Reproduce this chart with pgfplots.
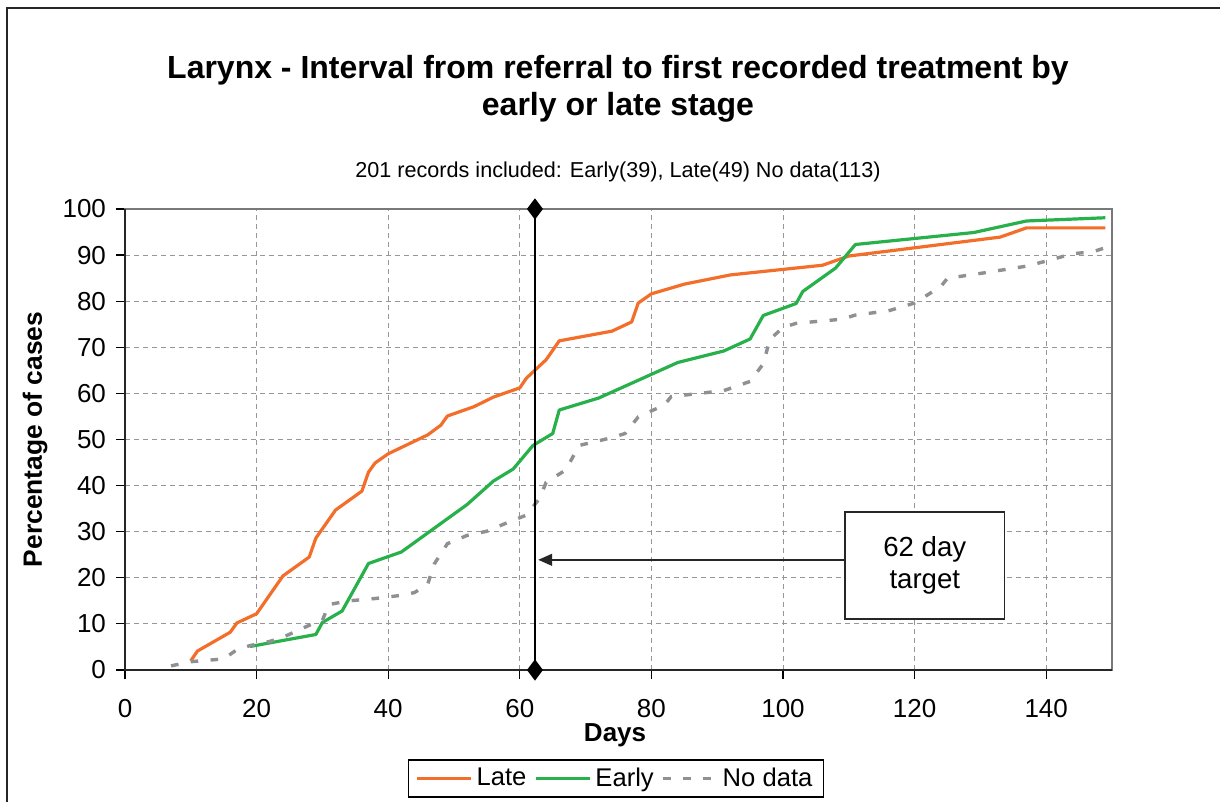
\documentclass[border=0pt]{standalone}
\usepackage{pgfplots}
\pgfplotsset{compat=1.18}
\usepackage{fontspec}
\setmainfont{Liberation Sans}
\usetikzlibrary{arrows.meta}
\definecolor{lateC}{RGB}{243,110,42}
\definecolor{earlyC}{RGB}{40,176,74}
\definecolor{nodC}{RGB}{142,144,147}
\definecolor{gridC}{RGB}{150,150,150}
\begin{document}
\begin{tikzpicture}
\useasboundingbox (0,0) rectangle (610bp,401bp);
\draw[line width=0.8bp, black!85] (3.5bp,0) -- (3.5bp,397bp) -- (610bp,397bp);
\node[font=\fontsize{16bp}{18.5bp}\selectfont\bfseries, align=center] at (309bp,356.5bp)
  {Larynx - Interval from referral to first recorded treatment by\\early or late stage};
\node[font=\fontsize{10.8bp}{12bp}\selectfont] at (309bp,315bp)
  {201 records included: Early(39), Late(49) No data(113)};
\begin{axis}[
  at={(62.5bp,66bp)}, anchor=south west,
  scale only axis, width=493.5bp, height=230.5bp,
  xmin=0, xmax=150, ymin=0, ymax=100,
  xtick={0,20,...,140}, ytick={0,10,...,100},
  /pgf/number format/assume math mode=true,
  ticklabel style={font=\fontsize{13bp}{15bp}\selectfont},
  xticklabel style={yshift=-6.8bp},
  yticklabel style={xshift=-1.5bp},
  tick align=outside, major tick length=4.5bp,
  tick style={black, line width=0.6bp},
  xtick pos=bottom, ytick pos=left,
  grid=major,
  major grid style={gridC, line width=0.5bp, dash pattern=on 2.5bp off 2bp},
  axis line style={draw=gray!95!black, line width=1.3bp},
  xlabel={\textbf{Days}}, ylabel={\textbf{Percentage of cases}},
  every axis x label/.style={at={(axis description cs:0.4965,-0.141)}, anchor=center, font=\fontsize{13bp}{15bp}\selectfont},
  every axis y label/.style={at={(axis description cs:-0.0912,0.5)}, rotate=90, anchor=center, font=\fontsize{13.2bp}{15bp}\selectfont},
  legend columns=3,
  legend style={at={(rel axis cs:0.4975,-0.2354)}, anchor=center, draw=black, line width=0.8bp,
    font=\fontsize{12.8bp}{14bp}\selectfont, inner xsep=3.5bp, inner ysep=2bp,
    /tikz/every even column/.append style={column sep=2bp}},
  legend image code/.code={\draw[#1, line width=1.5bp] (0bp,0bp) -- (27bp,0bp);},
  clip=false,
]
\addplot[lateC, line width=1.6bp, line join=round] coordinates {
(10,2.0) (11,4.1) (16,8.2) (17,10.2) (20,12.2) (24,20.4) (28,24.5) (29,28.6) (32,34.7) (36,38.8) (37,42.9) (38,44.9) (40,46.9) (46,51.0) (48,53.1) (49,55.1) (53,57.1) (56,59.2) (60,61.2) (61,63.3) (64,67.3) (66,71.4) (74,73.5) (77,75.5) (78,79.6) (80,81.6) (85,83.7) (92,85.7) (106,87.8) (110,89.8) (133,93.9) (137,95.9) (149,95.9)
};
\addlegendentry{Late}
\addplot[earlyC, line width=1.6bp, line join=round] coordinates {
(19,5.1) (29,7.7) (30,10.3) (33,12.8) (37,23.1) (42,25.6) (52,35.9) (56,41.0) (59,43.6) (62,48.7) (65,51.3) (66,56.4) (72,59.0) (84,66.7) (91,69.2) (95,71.8) (97,76.9) (102,79.5) (103,82.1) (108,87.2) (111,92.3) (129,94.9) (137,97.4) (149,98.1)
};
\addlegendentry{Early}
\addplot[nodC, line width=1.7bp, dash pattern=on 3.8bp off 6.2bp] coordinates {
(7,0.9) (10,1.8) (15,2.4) (17,4.4) (19,5.3) (22,6.2) (24,7.1) (28,9.7) (30,10.8) (31,14.2) (34,15.0) (38,15.5) (42,16.2) (44,16.8) (46,18.6) (47,23.0) (49,27.4) (52,29.2) (55,30.1) (58,31.9) (61,33.6) (63,37.2) (64,40.7) (67,43.4) (69,48.7) (74,50.4) (76,51.3) (78,54.9) (82,57.5) (83,59.3) (91,60.6) (95,62.6) (97,66.4) (98,71.7) (100,74.3) (102,75.2) (109,76.1) (111,77.0) (116,77.9) (120,79.6) (122,81.4) (124,83.2) (125,85.0) (129,85.8) (137,87.6) (140,88.7) (144,90.3) (147,90.7) (149,91.6)
};
\addlegendentry{No data}
\addplot[black, line width=1bp, mark=diamond*, mark size=4.5bp, mark options={solid, fill=black}, forget plot] coordinates {(62.3,0) (62.3,100)};
\draw[line width=1.1bp, black!85] (axis cs:0,100) -- (axis cs:0,0) -- (axis cs:150,0);
\draw[black!85, line width=0.7bp, -{Triangle[length=7bp, width=6bp]}] (axis cs:109.4,23.9) -- (axis cs:62.8,23.9);
\draw[black!85, line width=0.7bp, fill=white] (axis cs:109.4,11.1) rectangle (axis cs:133.7,34.3);
\node[align=center, font=\fontsize{13.8bp}{16bp}\selectfont] at (axis cs:121.55,22.7) {62 day\\target};
\end{axis}
\end{tikzpicture}
\end{document}
